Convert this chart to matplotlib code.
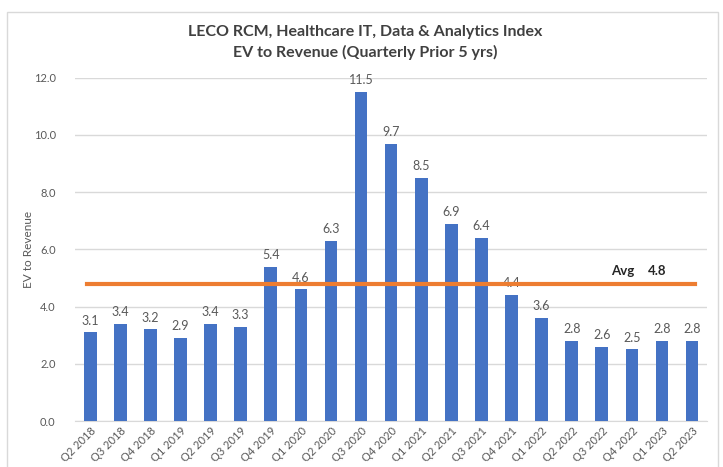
import matplotlib.pyplot as plt
from matplotlib.patches import Rectangle

plt.rcParams['font.family'] = ['Lato', 'DejaVu Sans']

# Datos del gráfico
trimestres = ["Q2 2018", "Q3 2018", "Q4 2018", "Q1 2019", "Q2 2019", "Q3 2019",
              "Q4 2019", "Q1 2020", "Q2 2020", "Q3 2020", "Q4 2020", "Q1 2021",
              "Q2 2021", "Q3 2021", "Q4 2021", "Q1 2022", "Q2 2022", "Q3 2022",
              "Q4 2022", "Q1 2023", "Q2 2023"]
ev_revenue = [3.1, 3.4, 3.2, 2.9, 3.4, 3.3, 5.4, 4.6, 6.3, 11.5, 9.7, 8.5,
              6.9, 6.4, 4.4, 3.6, 2.8, 2.6, 2.5, 2.8, 2.8]
promedio = 4.8
yticks = [0, 2, 4, 6, 8, 10, 12]

gris = "#595959"
fig = plt.figure(figsize=(7.23, 4.67), dpi=100)
ax = fig.add_axes([0.104, 0.0985, 0.874, 0.735])

# Marco del gráfico
fig.patches.append(Rectangle((0.0097, -0.02), 0.983, 0.994, transform=fig.transFigure,
                             fill=False, edgecolor="#d9d9d9", linewidth=1))

x = list(range(len(trimestres)))
bars = ax.bar(x, ev_revenue, width=0.42, color="#4472C4", zorder=3)
ax.plot([x[0] - 0.1, x[-1] + 0.1], [promedio, promedio], color="#ED7D31", linewidth=3, zorder=4)
ax.text(17.7, promedio + 0.25, "Avg", fontsize=9.5, fontweight="bold", ha="center", va="bottom", color="#262626")
ax.text(18.85, promedio + 0.25, f"{promedio:.1f}", fontsize=9.5, fontweight="bold", ha="center", va="bottom", color="#262626")

# Etiquetas encima de cada barra
for bar, v in zip(bars, ev_revenue):
    ax.text(bar.get_x() + bar.get_width() / 2, v + 0.2, f"{v:.1f}", ha="center", va="bottom",
            fontsize=9, color=gris)

ax.set_xlim(-0.5, len(trimestres) - 0.5)
ax.set_ylim(0, 12)
ax.set_yticks(yticks)
ax.set_yticklabels([f"{t:.1f}" for t in yticks], fontsize=8, color=gris)
ax.set_xticks(x)
ax.set_xticklabels(trimestres, rotation=45, ha="right", rotation_mode="anchor", fontsize=8, color=gris)
ax.tick_params(axis="x", length=0, pad=3)
ax.tick_params(axis="y", length=0, pad=14)
ax.set_ylabel("EV to Revenue", fontsize=8.5, color=gris)
ax.yaxis.set_label_coords(-0.065, 0.5)
ax.grid(axis="y", color="#d9d9d9", linewidth=1, zorder=0)
for s in ["top", "right", "left"]:
    ax.spines[s].set_visible(False)
ax.spines["bottom"].set_color("#d9d9d9")

fig.text(0.505, 0.932, "LECO RCM, Healthcare IT, Data & Analytics Index", ha="center", va="center",
         fontsize=11.5, fontweight="bold", color="#404040")
fig.text(0.505, 0.888, "EV to Revenue (Quarterly Prior 5 yrs)", ha="center", va="center",
         fontsize=11.5, fontweight="bold", color="#404040")

plt.savefig("out.png", dpi=100)
plt.close()
